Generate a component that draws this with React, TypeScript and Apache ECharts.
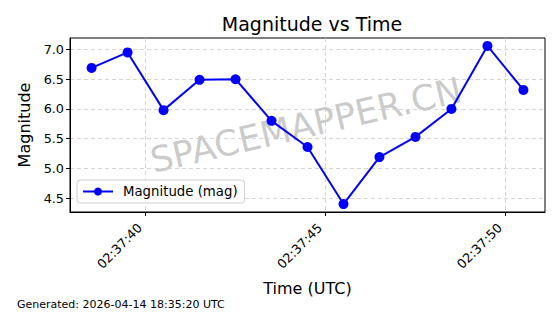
import React, { useEffect, useRef } from "react";
import * as echarts from "echarts";

const minutePrefix = "02:37:";
const seconds = [38.5, 39.5, 40.5, 41.5, 42.5, 43.5, 44.5, 45.5, 46.5, 47.5, 48.5, 49.5, 50.5];
const magnitudes = [6.69, 6.95, 5.98, 6.49, 6.5, 5.8, 5.36, 4.4, 5.19, 5.53, 6.0, 7.06, 6.32];
const xTicks = [40, 45, 50];
const yTicks = [4.5, 5.0, 5.5, 6.0, 6.5, 7.0];

const FONT = "DejaVu Sans";

export default function App() {
  const ref = useRef<HTMLDivElement>(null);
  useEffect(() => {
    document.body.style.margin = "0";
    const chart = echarts.init(ref.current!, undefined, { renderer: "svg" });
    const data = seconds.map((s, i) => [s, magnitudes[i]]);
    chart.setOption({
      animation: false,
      backgroundColor: "#ffffff",
      textStyle: { fontFamily: FONT },
      title: {
        text: "Magnitude vs Time",
        left: 307,
        textAlign: "center",
        top: 9,
        textStyle: { fontFamily: FONT, fontSize: 19, fontWeight: "normal", color: "#000" },
      },
      grid: {
        left: 70,
        right: 15,
        top: 38,
        bottom: 102,
        show: true,
        borderColor: "#000",
        borderWidth: 1,
        backgroundColor: "transparent",
      },
      legend: {
        left: 77,
        top: 180,
        orient: "vertical",
        padding: [5, 7, 5, 5],
        itemWidth: 30,
        itemHeight: 10,
        borderColor: "#d0d0d0",
        borderWidth: 1,
        borderRadius: 3,
        backgroundColor: "rgba(255,255,255,0.8)",
        textStyle: { fontFamily: FONT, fontSize: 13.3, color: "#000", padding: [0, 0, 0, 5] },
        data: ["Magnitude (mag)"],
      },
      xAxis: {
        type: "value",
        min: 37.9,
        max: 51.1,
        name: "Time (UTC)",
        nameLocation: "middle",
        nameGap: 68,
        nameTextStyle: { fontFamily: FONT, fontSize: 16, color: "#000" },
        axisLine: { show: true, onZero: false, lineStyle: { color: "#000", width: 1 } },
        axisTick: { show: true, length: 4, lineStyle: { color: "#000" }, customValues: xTicks },
        axisLabel: {
          customValues: xTicks,
          rotate: 45,
          margin: 8,
          padding: [0, 8, 0, 0],
          fontFamily: FONT,
          fontSize: 12.8,
          color: "#000",
          formatter: (v: number) => minutePrefix + String(Math.round(v)),
        },
        splitLine: { show: true, lineStyle: { color: "#cccccc", type: [4, 3], width: 0.8 } },
      },
      yAxis: {
        type: "value",
        min: 4.267,
        max: 7.193,
        name: "Magnitude",
        nameLocation: "middle",
        nameGap: 38,
        nameTextStyle: { fontFamily: FONT, fontSize: 16, color: "#000" },
        axisLine: { show: true, onZero: false, lineStyle: { color: "#000", width: 1 } },
        axisTick: { show: true, length: 4, lineStyle: { color: "#000" }, customValues: yTicks },
        axisLabel: {
          customValues: yTicks,
          margin: 6,
          fontFamily: FONT,
          fontSize: 12.8,
          color: "#000",
          formatter: (v: number) => v.toFixed(1),
        },
        splitLine: { show: true, lineStyle: { color: "#cccccc", type: [4, 3], width: 0.8 } },
      },
      graphic: [
        {
          type: "text",
          x: 306,
          y: 125,
          rotation: (13 * Math.PI) / 180,
          z: 0,
          style: {
            text: "SPACEMAPPER.CN",
            fontFamily: FONT,
            fontSize: 35.5,
            fill: "rgba(128,128,128,0.42)",
            align: "center",
            verticalAlign: "middle",
          },
        },
        {
          type: "text",
          left: 17,
          top: 299,
          style: {
            text: "Generated: 2026-04-14 18:35:20 UTC",
            fontFamily: FONT,
            fontSize: 11,
            fill: "#000",
          },
        },
      ],
      series: [
        {
          name: "Magnitude (mag)",
          type: "line",
          data,
          symbol: "circle",
          symbolSize: 10,
          lineStyle: { color: "#0000ff", width: 2 },
          itemStyle: { color: "#0000ff" },
          z: 3,
        },
      ],
    });
    return () => chart.dispose();
  }, []);
  return <div ref={ref} style={{ width: 560, height: 314 }} />;
}
